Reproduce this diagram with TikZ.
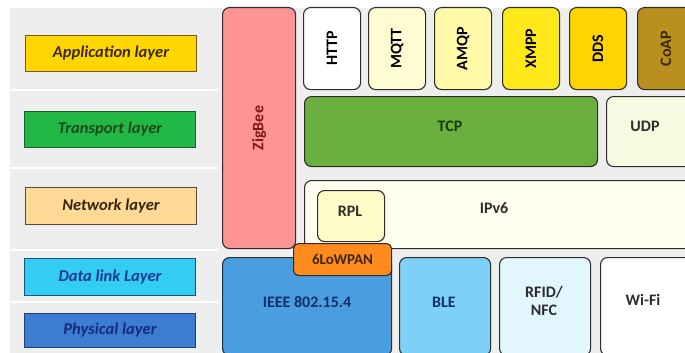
\documentclass[tikz,border=0pt]{standalone}
\usepackage{fontspec}
\setmainfont{Carlito}
\usetikzlibrary{positioning}
\definecolor{bggray}{RGB}{238,238,238}
\definecolor{boxline}{RGB}{45,45,45}
\definecolor{appfill}{RGB}{255,214,0}
\definecolor{transfill}{RGB}{34,184,69}
\definecolor{netfill}{RGB}{255,217,150}
\definecolor{dllfill}{RGB}{51,204,242}
\definecolor{phyfill}{RGB}{59,125,208}
\definecolor{zigfill}{RGB}{255,148,148}
\definecolor{darkred}{RGB}{120,26,26}
\definecolor{darknavy}{RGB}{18,48,106}
\definecolor{darkbrown}{RGB}{58,42,10}

\begin{document}
\begin{tikzpicture}[x=1pt,y=-1pt,
    layerbox/.style={draw, line width=1pt, minimum width=171pt, minimum height=36pt,
      anchor=north west, inner sep=0, font=\bfseries\itshape\fontsize{16.5}{18}\selectfont},
    proto/.style={draw=boxline, line width=1.1pt, rounded corners=7pt, anchor=north west,
      inner sep=0, align=center, font=\bfseries\fontsize{16}{18}\selectfont},
    boxtext/.style={font=\bfseries\fontsize{16}{18}\selectfont, align=center}]
  \useasboundingbox (0,0) rectangle (685,353);
  \clip (0,0) rectangle (685,353);
  % background and row separators
  \fill[bggray] (10,8) rectangle (685,353);
  \foreach \yy in {90,168,250,302}
    \draw[white, line width=2pt] (10,\yy) -- (218,\yy);
  % layer names
  \node[layerbox, fill=appfill, draw={rgb,255:red,122;green,90;blue,16}, text=darkbrown] (app) at (25,35) {Application layer};
  \node[layerbox, fill=transfill, draw={rgb,255:red,30;green,94;blue,42}, text={rgb,255:red,28;green,74;blue,28}] (trans) at (24,111) {Transport layer};
  \node[layerbox, fill=netfill, draw={rgb,255:red,90;green,74;blue,58}, text={rgb,255:red,58;green,37;blue,18}, minimum height=37pt] (net) at (25,187) {Network layer};
  \node[layerbox, fill=dllfill, draw={rgb,255:red,31;green,78;blue,140}, text={rgb,255:red,26;green,58;blue,144}, minimum height=37pt] (dll) at (24,258) {Data link Layer};
  \node[layerbox, fill=phyfill, draw={rgb,255:red,31;green,63;blue,128}, text={rgb,255:red,26;green,42;blue,128}, minimum height=34pt] (phy) at (24,313) {Physical layer};
  % ZigBee column
  \node[proto, fill=zigfill, text=darkred, minimum width=73pt, minimum height=241pt] (zigbee) at (222,7) {\rotatebox{90}{ZigBee}};
  % application protocols
  \node[proto, fill=white, minimum width=57pt, minimum height=82pt] (http) at (303,7) {\rotatebox{90}{HTTP}};
  \node[proto, fill={rgb,255:red,255;green,251;blue,210}, minimum width=57pt, minimum height=82pt] (mqtt) at (368,7) {\rotatebox{90}{MQTT}};
  \node[proto, fill={rgb,255:red,255;green,249;blue,168}, minimum width=57pt, minimum height=82pt] (amqp) at (434,7) {\rotatebox{90}{AMQP}};
  \node[proto, fill={rgb,255:red,255;green,232;blue,26}, minimum width=57pt, minimum height=82pt] (xmpp) at (502,7) {\rotatebox{90}{XMPP}};
  \node[proto, fill={rgb,255:red,255;green,212;blue,0}, minimum width=57pt, minimum height=82pt] (dds) at (569,7) {\rotatebox{90}{DDS}};
  \node[proto, fill={rgb,255:red,185;green,143;blue,30}, text=darkbrown, minimum width=57pt, minimum height=82pt] (coap) at (637,7) {\rotatebox{90}{CoAP}};
  % transport
  \node[proto, fill={rgb,255:red,107;green,176;blue,63}, text={rgb,255:red,26;green,58;blue,16}, minimum width=293pt, minimum height=70pt] (tcp) at (304,96) {};
  \node[boxtext, text={rgb,255:red,26;green,58;blue,16}] (tcptxt) at (450,126) {TCP};
  \node[proto, fill={rgb,255:red,244;green,251;blue,224}, minimum width=100pt, minimum height=70pt] (udp) at (606,96) {};
  \node[boxtext, text=boxline] (udptxt) at (645,126) {UDP};
  % network
  \node[proto, fill={rgb,255:red,255;green,254;blue,240}, minimum width=400pt, minimum height=68pt] (ipv6) at (304,180) {};
  \node[boxtext, text=boxline] (ipv6txt) at (494,208) {IPv6};
  \node[proto, fill={rgb,255:red,255;green,251;blue,200}, minimum width=67pt, minimum height=51pt] (rpl) at (317,190) {};
  \node[boxtext, text=boxline] (rpltxt) at (350,211) {RPL};
  % link / physical
  \node[proto, fill={rgb,255:red,74;green,157;blue,222}, minimum width=169pt, minimum height=98pt] (ieee) at (222,257) {};
  \node[proto, fill={rgb,255:red,127;green,208;blue,246}, minimum width=91pt, minimum height=98pt] (ble) at (399,257) {};
  \node[proto, fill={rgb,255:red,226;green,246;blue,253}, minimum width=91pt, minimum height=98pt] (rfid) at (499,257) {};
  \node[proto, fill=white, minimum width=100pt, minimum height=98pt] (wifi) at (600,257) {};
  \node[boxtext, text=darknavy] (ieeetxt) at (307,302) {IEEE 802.15.4};
  \node[boxtext, text=darknavy] (bletxt) at (444,302) {BLE};
  \node[boxtext, text=boxline] (rfidtxt) at (544,301) {RFID/\\NFC};
  \node[boxtext, text=boxline] (wifitxt) at (643,300) {Wi-Fi};
  % adaptation layer on top
  \node[proto, rounded corners=5pt, fill={rgb,255:red,255;green,138;blue,30}, text=darkbrown, minimum width=98pt, minimum height=32pt, font=\bfseries\fontsize{15}{17}\selectfont] (lowpan) at (293,243) {6LoWPAN};
\end{tikzpicture}
\end{document}
